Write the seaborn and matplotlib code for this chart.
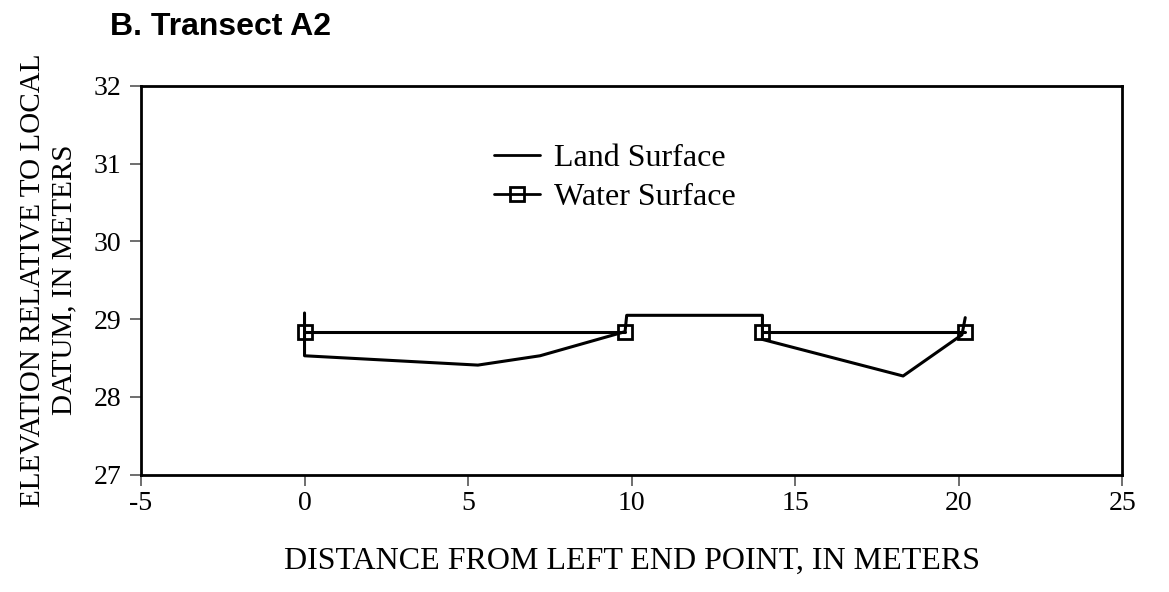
import pandas as pd
import numpy as np
import matplotlib
matplotlib.use('Agg')
import matplotlib.pyplot as plt
from matplotlib.lines import Line2D
import seaborn as sns

# Data
land_x = [0.0, 0.0, 5.3, 7.2, 9.8, 9.85, 14.0, 14.0, 18.3, 20.1, 20.2]
land_y = [29.08, 28.53, 28.41, 28.53, 28.84, 29.05, 29.05, 28.74, 28.27, 28.80, 29.02]

water_x = [0.0, 9.8, 14.0, 20.2]
water_y = [28.83, 28.83, 28.83, 28.83]
water_seg = [1, 1, 2, 2]

x_ticks = [-5, 0, 5, 10, 15, 20, 25]
y_ticks = [27, 28, 29, 30, 31, 32]

land = pd.DataFrame({'x': land_x, 'y': land_y})
water = pd.DataFrame({'x': water_x, 'y': water_y, 'seg': water_seg})

sns.set_style('white')
plt.rcParams['font.family'] = ['Liberation Serif', 'DejaVu Serif']
plt.rcParams['text.color'] = 'black'
plt.rcParams['axes.labelcolor'] = 'black'
plt.rcParams['xtick.labelcolor'] = 'black'
plt.rcParams['ytick.labelcolor'] = 'black'

fig = plt.figure(figsize=(11.69, 5.92), dpi=100)
ax = fig.add_axes([0.1206, 0.198, 0.8394, 0.657])

sns.lineplot(data=land, x='x', y='y', sort=False, estimator=None,
             color='black', linewidth=2.2, legend=False, ax=ax)
sns.lineplot(data=water, x='x', y='y', units='seg', sort=False, estimator=None,
             color='black', linewidth=2.2, marker='s', markersize=10,
             markerfacecolor='none', markeredgecolor='black', markeredgewidth=2,
             legend=False, ax=ax)

ax.set_xlim(-5, 25)
ax.set_ylim(27, 32)
ax.set_xticks(x_ticks)
ax.set_yticks(y_ticks)
ax.set_xticklabels([str(t) for t in x_ticks])
ax.set_yticklabels([str(t) for t in y_ticks])
ax.tick_params(axis='both', direction='out', length=8, width=1.2, labelsize=20,
               bottom=True, left=True, color='#555555', labelcolor='black')
ax.tick_params(axis='x', pad=4)
ax.tick_params(axis='y', pad=6)
for s in ax.spines.values():
    s.set_visible(True)
    s.set_color('black')
    s.set_linewidth(2)

ax.set_xlabel('DISTANCE FROM LEFT END POINT, IN METERS', fontsize=23,
              labelpad=22, color='black')
ax.set_ylabel('ELEVATION RELATIVE TO LOCAL\nDATUM, IN METERS', fontsize=21,
              labelpad=12, linespacing=1.25, color='black')

handles = [
    Line2D([], [], color='black', linewidth=2),
    Line2D([], [], color='black', linewidth=2, marker='s', markersize=10,
           markerfacecolor='none', markeredgecolor='black', markeredgewidth=2),
]
ax.legend(handles, ['Land Surface', 'Water Surface'], loc='upper left',
          bbox_to_anchor=(0.33, 0.925), frameon=False, fontsize=23,
          handlelength=1.45, handletextpad=0.45, labelspacing=0.3)

fig.text(0.094, 0.955, 'B. Transect A2', fontsize=23, fontweight='bold',
         family=['Liberation Sans', 'DejaVu Sans'], ha='left', va='center',
         color='black')

fig.savefig('out.png', dpi=100, facecolor='white')
